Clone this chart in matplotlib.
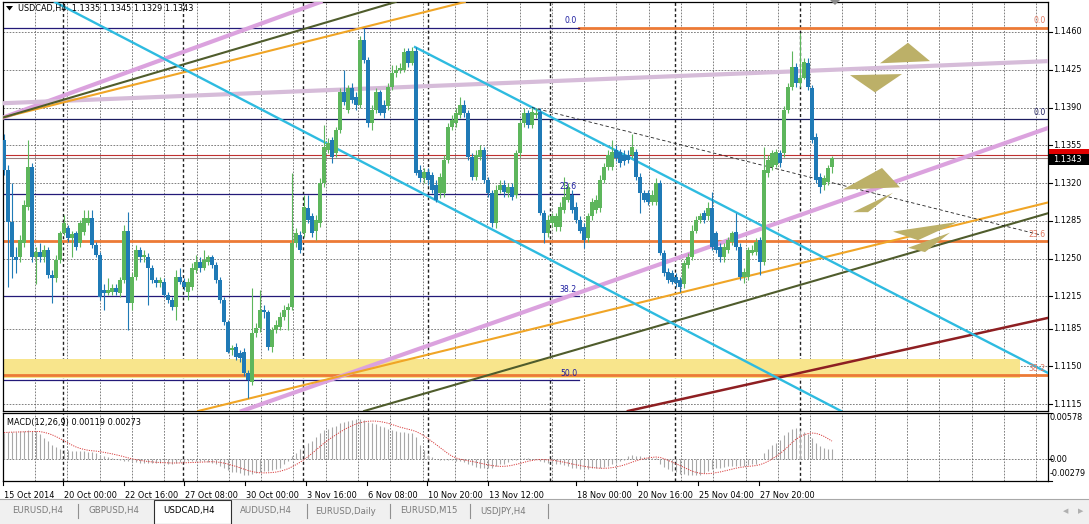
import matplotlib
matplotlib.use('Agg')
import matplotlib.pyplot as plt
import numpy as np
import pandas as pd
from matplotlib.patches import Rectangle, Polygon

# ---------------- data (USDCAD H4 candles) ----------------
opens = [
1.1360,1.1332,1.1284,1.1251,1.1251,1.1264,1.1298,1.1335,1.1251,1.1256,
1.1251,1.1258,1.1235,1.1232,1.1249,1.1274,1.1278,1.1269,1.1274,1.1264,
1.1275,1.1283,1.1288,1.1263,1.1253,1.1221,1.1218,1.1219,1.1223,1.1218,
1.1230,1.1276,1.1209,1.1233,1.1258,1.1251,1.1251,1.1241,1.1230,1.1227,
1.1228,1.1216,1.1212,1.1205,1.1233,1.1228,1.1219,1.1224,1.1239,1.1247,
1.1241,1.1247,1.1251,1.1244,1.1230,1.1212,1.1191,1.1165,1.1168,1.1162,
1.1163,1.1144,1.1136,1.1181,1.1186,1.1202,1.1200,1.1168,1.1184,1.1187,
1.1196,1.1202,1.1205,1.1264,1.1272,1.1274,1.1297,1.1289,1.1276,1.1283,
1.1320,1.1351,1.1360,1.1348,1.1369,1.1404,1.1388,1.1408,1.1400,1.1392,
1.1453,1.1434,1.1376,1.1388,1.1404,1.1392,1.1391,1.1409,1.1422,1.1425,
1.1425,1.1442,1.1431,1.1442,1.1332,1.1325,1.1330,1.1327,1.1318,1.1311,
1.1311,1.1341,1.1372,1.1376,1.1383,1.1392,1.1385,1.1344,1.1326,1.1344,
1.1351,1.1323,1.1311,1.1283,1.1314,1.1318,1.1311,1.1316,1.1309,1.1348,
1.1376,1.1385,1.1374,1.1383,1.1386,1.1292,1.1274,1.1283,1.1279,1.1279,
1.1295,1.1304,1.1309,1.1298,1.1286,1.1279,1.1269,1.1289,1.1295,1.1297,
1.1323,1.1335,1.1335,1.1351,1.1349,1.1346,1.1346,1.1346,1.1349,1.1326,
1.1311,1.1311,1.1302,1.1302,1.1320,1.1255,1.1238,1.1237,1.1233,1.1230,
1.1226,1.1244,1.1251,1.1276,1.1286,1.1292,1.1289,1.1297,1.1274,1.1261,
1.1251,1.1258,1.1265,1.1275,1.1261,1.1233,1.1233,1.1255,1.1256,1.1267,
1.1247,1.1329,1.1335,1.1337,1.1348,1.1348,1.1388,1.1409,1.1428,1.1413,
1.1417,1.1431,1.1408,1.1363,1.1326,1.1318,1.1321,1.1335]
highs = [
1.1365,1.1337,1.1320,1.1261,1.1272,1.1304,1.1360,1.1339,1.1261,1.1264,
1.1263,1.1261,1.1239,1.1253,1.1276,1.1290,1.1281,1.1276,1.1276,1.1286,
1.1295,1.1295,1.1295,1.1265,1.1256,1.1226,1.1232,1.1226,1.1226,1.1233,
1.1281,1.1293,1.1237,1.1263,1.1261,1.1258,1.1255,1.1244,1.1233,1.1233,
1.1232,1.1219,1.1214,1.1239,1.1241,1.1232,1.1232,1.1246,1.1253,1.1251,
1.1258,1.1253,1.1253,1.1247,1.1233,1.1214,1.1193,1.1170,1.1172,1.1165,
1.1167,1.1147,1.1223,1.1190,1.1221,1.1207,1.1202,1.1187,1.1193,1.1200,
1.1207,1.1209,1.1329,1.1278,1.1276,1.1309,1.1309,1.1292,1.1290,1.1325,
1.1374,1.1362,1.1363,1.1372,1.1408,1.1425,1.1411,1.1413,1.1404,1.1456,
1.1464,1.1437,1.1392,1.1408,1.1406,1.1397,1.1413,1.1429,1.1429,1.1431,
1.1445,1.1445,1.1446,1.1446,1.1337,1.1334,1.1334,1.1330,1.1323,1.1329,
1.1346,1.1376,1.1383,1.1390,1.1400,1.1397,1.1388,1.1348,1.1351,1.1355,
1.1353,1.1326,1.1314,1.1318,1.1323,1.1323,1.1320,1.1320,1.1351,1.1378,
1.1390,1.1388,1.1390,1.1390,1.1390,1.1295,1.1290,1.1292,1.1292,1.1302,
1.1326,1.1320,1.1314,1.1302,1.1289,1.1283,1.1292,1.1306,1.1309,1.1327,
1.1339,1.1351,1.1360,1.1355,1.1352,1.1351,1.1351,1.1365,1.1352,1.1329,
1.1314,1.1314,1.1314,1.1325,1.1323,1.1258,1.1241,1.1239,1.1237,1.1233,
1.1249,1.1255,1.1281,1.1289,1.1292,1.1295,1.1302,1.1312,1.1276,1.1264,
1.1264,1.1270,1.1276,1.1292,1.1264,1.1241,1.1261,1.1263,1.1269,1.1270,
1.1353,1.1346,1.1351,1.1352,1.1351,1.1391,1.1413,1.1442,1.1431,1.1459,
1.1436,1.1436,1.1411,1.1366,1.1329,1.1327,1.1337,1.1345]
lows = [
1.1327,1.1224,1.1232,1.1237,1.1247,1.1261,1.1295,1.1247,1.1226,1.1247,
1.1247,1.1232,1.1209,1.1228,1.1246,1.1272,1.1265,1.1251,1.1258,1.1261,
1.1272,1.1281,1.1260,1.1251,1.1212,1.1202,1.1216,1.1216,1.1216,1.1214,
1.1227,1.1184,1.1202,1.1230,1.1247,1.1247,1.1207,1.1227,1.1224,1.1224,
1.1214,1.1209,1.1202,1.1193,1.1226,1.1221,1.1212,1.1221,1.1237,1.1238,
1.1239,1.1244,1.1241,1.1227,1.1209,1.1188,1.1162,1.1161,1.1156,1.1154,
1.1141,1.1121,1.1133,1.1177,1.1182,1.1195,1.1165,1.1163,1.1181,1.1184,
1.1193,1.1184,1.1202,1.1261,1.1255,1.1270,1.1283,1.1270,1.1267,1.1279,
1.1316,1.1348,1.1339,1.1344,1.1366,1.1392,1.1385,1.1394,1.1388,1.1390,
1.1431,1.1372,1.1369,1.1385,1.1383,1.1380,1.1388,1.1406,1.1418,1.1422,
1.1423,1.1428,1.1429,1.1327,1.1321,1.1320,1.1318,1.1311,1.1302,1.1306,
1.1307,1.1339,1.1369,1.1372,1.1380,1.1381,1.1341,1.1323,1.1323,1.1341,
1.1320,1.1307,1.1279,1.1278,1.1311,1.1307,1.1307,1.1304,1.1306,1.1344,
1.1372,1.1371,1.1371,1.1380,1.1290,1.1264,1.1270,1.1279,1.1276,1.1276,
1.1292,1.1302,1.1292,1.1283,1.1274,1.1260,1.1265,1.1286,1.1292,1.1293,
1.1320,1.1332,1.1332,1.1340,1.1335,1.1337,1.1339,1.1343,1.1323,1.1292,
1.1302,1.1300,1.1300,1.1300,1.1253,1.1234,1.1227,1.1226,1.1224,1.1219,
1.1223,1.1241,1.1249,1.1274,1.1283,1.1283,1.1286,1.1258,1.1255,1.1247,
1.1247,1.1255,1.1263,1.1258,1.1230,1.1227,1.1230,1.1253,1.1253,1.1235,
1.1244,1.1326,1.1332,1.1335,1.1335,1.1344,1.1385,1.1406,1.1409,1.1409,
1.1416,1.1406,1.1357,1.1320,1.1311,1.1314,1.1318,1.1329]
closes = [
1.1332,1.1284,1.1251,1.1249,1.1267,1.1300,1.1335,1.1251,1.1256,1.1251,
1.1258,1.1235,1.1232,1.1249,1.1274,1.1283,1.1269,1.1273,1.1261,1.1283,
1.1288,1.1288,1.1263,1.1253,1.1214,1.1218,1.1221,1.1223,1.1219,1.1230,
1.1276,1.1209,1.1233,1.1258,1.1251,1.1253,1.1241,1.1230,1.1227,1.1230,
1.1216,1.1212,1.1205,1.1233,1.1228,1.1224,1.1228,1.1241,1.1247,1.1241,
1.1249,1.1251,1.1244,1.1230,1.1212,1.1191,1.1163,1.1167,1.1159,1.1158,
1.1144,1.1137,1.1181,1.1186,1.1202,1.1200,1.1168,1.1184,1.1188,1.1196,
1.1202,1.1205,1.1264,1.1274,1.1258,1.1298,1.1286,1.1274,1.1286,1.1320,
1.1353,1.1357,1.1344,1.1369,1.1404,1.1395,1.1408,1.1397,1.1392,1.1453,
1.1434,1.1376,1.1388,1.1404,1.1385,1.1385,1.1409,1.1422,1.1425,1.1427,
1.1441,1.1431,1.1442,1.1329,1.1325,1.1330,1.1323,1.1314,1.1304,1.1326,
1.1341,1.1372,1.1378,1.1385,1.1392,1.1385,1.1344,1.1326,1.1346,1.1351,
1.1323,1.1311,1.1283,1.1314,1.1318,1.1312,1.1316,1.1307,1.1348,1.1376,
1.1385,1.1374,1.1386,1.1385,1.1292,1.1274,1.1286,1.1289,1.1289,1.1298,
1.1307,1.1316,1.1295,1.1286,1.1276,1.1267,1.1289,1.1302,1.1304,1.1323,
1.1335,1.1346,1.1349,1.1343,1.1339,1.1340,1.1341,1.1353,1.1326,1.1311,
1.1304,1.1302,1.1309,1.1320,1.1255,1.1237,1.1230,1.1228,1.1227,1.1224,
1.1246,1.1251,1.1276,1.1286,1.1289,1.1286,1.1297,1.1261,1.1258,1.1251,
1.1261,1.1267,1.1274,1.1261,1.1233,1.1238,1.1258,1.1258,1.1265,1.1247,
1.1332,1.1341,1.1348,1.1349,1.1339,1.1388,1.1409,1.1428,1.1413,1.1417,
1.1432,1.1409,1.1360,1.1323,1.1316,1.1325,1.1334,1.1343]

# MACD(12,26,9) main values
macd_main = [
0.0033,0.0034,0.0034,0.0034,0.0035,0.0035,0.0036,0.0035,0.0035,0.0031,
0.0026,0.0022,0.0018,0.0015,0.0012,0.0011,0.0011,0.0010,0.0010,0.0010,
0.0010,0.0009,0.0009,0.0008,0.0005,0.0003,0.0002,0.0001,0.0000,-0.0001,
-0.0003,-0.0003,-0.0004,-0.0004,-0.0005,-0.0005,-0.0005,-0.0005,-0.0005,-0.0005,
-0.0005,-0.0006,-0.0006,-0.0005,-0.0004,-0.0004,-0.0003,-0.0003,-0.0003,-0.0003,
-0.0003,-0.0004,-0.0005,-0.0007,-0.0009,-0.0011,-0.0014,-0.0016,-0.0017,-0.0018,
-0.0020,-0.0020,-0.0019,-0.0018,-0.0016,-0.0015,-0.0015,-0.0014,-0.0013,-0.0011,
-0.0007,-0.0003,0.0004,0.0008,0.0012,0.0016,0.0020,0.0023,0.0027,0.0032,
0.0036,0.0038,0.0040,0.0042,0.0045,0.0047,0.0048,0.0049,0.0050,0.0050,
0.0049,0.0046,0.0045,0.0044,0.0042,0.0040,0.0038,0.0036,0.0035,0.0034,
0.0034,0.0033,0.0033,0.0027,0.0018,0.0011,0.0005,0.0002,0.0000,-0.0001,
-0.0001,-0.0001,-0.0002,-0.0003,-0.0003,-0.0004,-0.0006,-0.0008,-0.0010,-0.0011,
-0.0011,-0.0012,-0.0011,-0.0009,-0.0007,-0.0006,-0.0004,-0.0002,-0.0001,0.0000,
0.0001,0.0001,0.0000,0.0000,-0.0003,-0.0004,-0.0005,-0.0005,-0.0006,-0.0007,
-0.0008,-0.0009,-0.0011,-0.0012,-0.0013,-0.0013,-0.0013,-0.0012,-0.0012,-0.0011,
-0.0010,-0.0009,-0.0007,-0.0005,-0.0003,-0.0001,0.0004,0.0005,0.0004,0.0003,
0.0002,0.0002,0.0001,0.0001,-0.0006,-0.0010,-0.0013,-0.0015,-0.0017,-0.0019,
-0.0019,-0.0020,-0.0020,-0.0020,-0.0020,-0.0018,-0.0015,-0.0013,-0.0012,-0.0011,
-0.0010,-0.0009,-0.0009,-0.0009,-0.0009,-0.0009,-0.0008,-0.0007,-0.0006,0.0000,
0.0008,0.0012,0.0017,0.0020,0.0024,0.0030,0.0034,0.0038,0.0039,0.0037,
0.0034,0.0031,0.0026,0.0020,0.0016,0.0014,0.0012,0.00119]

price_ticks = [1.1460, 1.1425, 1.1390, 1.1355, 1.1320, 1.1285, 1.1250,
               1.1215, 1.1185, 1.1150, 1.1115]
time_labels = ['15 Oct 2014', '20 Oct 00:00', '22 Oct 16:00', '27 Oct 08:00',
               '30 Oct 00:00', '3 Nov 16:00', '6 Nov 08:00', '10 Nov 20:00',
               '13 Nov 12:00', '18 Nov 00:00', '20 Nov 16:00', '25 Nov 04:00',
               '27 Nov 20:00']
time_label_bars = [-0.25, 14.75, 30, 45, 60.25, 75.5, 90.75, 105.75, 121,
                   143, 158.25, 173.5, 188.75]
macd_ticks = [0.00578, 0.0, -0.00279]
macd_tick_labels = ['0.00578', '0.00', '-0.00279']

title_text = 'USDCAD,H4  1.1335 1.1345 1.1329 1.1343'
macd_text = 'MACD(12,26,9) 0.00119 0.00273'
ask_price, bid_price = 1.1346, 1.1343

# Fibonacci levels
fib_navy_levels = [1.1464, 1.1310, 1.1215, 1.1137]
fib_navy_labels = ['0.0', '23.6', '38.2', '50.0']
fib_navy_end = 143.75
fib_orange_levels = [1.1464, 1.1266, 1.1142]
fib_orange_labels = ['0.0', '23.6', '38.2']
fib_top_navy = 1.1379
zone_low, zone_high = 1.1139, 1.1157

# trend lines: ((bar, price), (bar, price))
pink_lines = [((0, 1.1381), (80, 1.1489)), ((156.5, 1.1235), (261, 1.1371))]
lavender_line = ((0, 1.1394), (261, 1.1433))
olive_lines = [((0, 1.1381), (99, 1.1489)), ((188.25, 1.1214), (261, 1.1292))]
orange_lines = [((0, 1.1381), (116.5, 1.1489)), ((150, 1.1201), (261, 1.1302))]
cyan_line_inf = ((51.5, 1.1413), (150, 1.1223))
cyan_ray = ((102.75, 1.1446), (261, 1.1144))
dashed_seg = ((132, 1.1390), (259, 1.1272))
maroon_line = ((160, 1.1112), (261, 1.1195))

tri_shapes = [
    [(219, 1.1431), (226, 1.1450), (231.5, 1.1433)],
    [(211.5, 1.1420), (224.5, 1.1421), (217.75, 1.1404)],
    [(209.75, 1.1314), (219.5, 1.1334), (224, 1.1316)],
    [(212.25, 1.1293), (222.25, 1.1311), (216, 1.1293)],
    [(222.25, 1.1275), (238.5, 1.1284), (228.5, 1.1267)],
    [(226, 1.1260), (236.5, 1.1274), (230.25, 1.1256)],
]

tabs = ['EURUSD,H4', 'GBPUSD,H4', 'USDCAD,H4', 'AUDUSD,H4', 'EURUSD,Daily',
        'EURUSD,M15', 'USDJPY,H4']
tab_active = 'USDCAD,H4'

# ---------------- figure ----------------
W, H = 1089, 524
fig = plt.figure(figsize=(W / 100, H / 100), dpi=100)
fig.patch.set_facecolor('white')

def fx(x):
    return x / W

def fy(y):
    return 1 - y / H

FONT = 'DejaVu Sans'
FS = 5.9

ax = fig.add_axes([fx(3), fy(411), (1048 - 3) / W, (411 - 2) / H])
axm = fig.add_axes([fx(3), fy(481), (1048 - 3) / W, (481 - 413) / H])
XMIN, XMAX = -0.25, 261.0
ax.set_xlim(XMIN, XMAX)
ax.set_ylim(1.11087, 1.14878)
axm.set_xlim(XMIN, XMAX)
axm.set_ylim(-0.00279, 0.00578)
for a in (ax, axm):
    a.set_xticks([])
    a.set_yticks([])
    a.set_facecolor('white')
    for s in a.spines.values():
        s.set_color('black')
        s.set_linewidth(0.9)

GRID = dict(color='#5e5e5e', lw=0.55, dashes=(2.2, 1.8), zorder=1)
for p in price_ticks:
    ax.axhline(p, **GRID)
axm.axhline(0.0, **GRID)
thin_grid = np.arange(7.75, XMAX, 8.075)
thick_grid = [14.75, 44.75, 74.75, 106, 136.5, 167.75, 199]
for b in thin_grid:
    ax.axvline(b, **GRID)
    axm.axvline(b, **GRID)
for b in thick_grid:
    ax.axvline(b, color='#202020', lw=1.0, dashes=(2.2, 1.8), zorder=1)
    axm.axvline(b, color='#202020', lw=1.0, dashes=(2.2, 1.8), zorder=1)

# zone and horizontal levels
ax.add_patch(Rectangle((XMIN, zone_low), 254 - XMIN, zone_high - zone_low,
                       facecolor='#f8e58c', edgecolor='none', zorder=1.5))
ORANGE_H = '#ec7a36'
ax.plot([fib_navy_end, XMAX], [fib_orange_levels[0]] * 2, color=ORANGE_H, lw=2.0, zorder=2)
for lv in fib_orange_levels[1:]:
    ax.axhline(lv, color=ORANGE_H, lw=2.0, zorder=2)
for lv in fib_navy_levels:
    ax.plot([XMIN, fib_navy_end], [lv, lv], color='#231a78', lw=0.9, zorder=2.5)
ax.axhline(fib_top_navy, color='#1c1c60', lw=0.9, zorder=2.5)
ax.axhline(ask_price, color='#c03030', lw=0.8, zorder=2.5)
ax.axhline(bid_price, color='#9a8080', lw=0.8, zorder=2.5)

for lv, t in zip(fib_navy_levels, fib_navy_labels):
    ax.text(fib_navy_end - 0.5, lv + 0.00022, t, color='#1c1ca0', fontsize=5.6,
            family=FONT, ha='right', va='bottom', zorder=7)
for lv, t in zip(fib_orange_levels, fib_orange_labels):
    ax.text(XMAX - 0.6, lv + 0.00022, t, color='#e07a62', fontsize=5.6,
            family=FONT, ha='right', va='bottom', zorder=7)
ax.text(XMAX - 0.6, fib_top_navy + 0.00022, '0.0', color='#202060', fontsize=5.6,
        family=FONT, ha='right', va='bottom', zorder=7)

# trend lines
for p1, p2 in pink_lines:
    ax.axline(p1, p2, color='#dba2de', lw=3.0, zorder=3)
ax.axline(*lavender_line, color='#d6bcd9', lw=3.0, zorder=3)
for p1, p2 in olive_lines:
    ax.axline(p1, p2, color='#4f5c2c', lw=1.5, zorder=3.2)
for p1, p2 in orange_lines:
    ax.axline(p1, p2, color='#f0a526', lw=1.5, zorder=3.1)
ax.axline(*cyan_line_inf, color='#2ebbe0', lw=1.7, zorder=3.3)
ax.plot([cyan_ray[0][0], cyan_ray[1][0]], [cyan_ray[0][1], cyan_ray[1][1]],
        color='#2ebbe0', lw=1.7, zorder=3.3)
ax.plot([dashed_seg[0][0], dashed_seg[1][0]], [dashed_seg[0][1], dashed_seg[1][1]],
        color='#202020', lw=0.6, dashes=(4, 3), zorder=3.3)
ax.axline(*maroon_line, color='#8e1f22', lw=1.8, zorder=3.2)
for tri in tri_shapes:
    ax.add_patch(Polygon(tri, closed=True, facecolor='#bcb068', edgecolor='none',
                         zorder=4))

# candles
o = np.array(opens); h = np.array(highs); l = np.array(lows); c = np.array(closes)
idx = np.arange(len(c))
up = c >= o
cols = np.where(up, '#5db65c', '#1f7ab6')
ax.vlines(idx, l, h, colors=cols, lw=0.8, zorder=5)
body_bot = np.minimum(o, c)
body_h = np.maximum(np.abs(c - o), 0.00005)
ax.bar(idx, body_h, bottom=body_bot, width=0.78, color=cols, lw=0, zorder=6)

# MACD
mm = np.array(macd_main)
sig = pd.Series(mm).rolling(9, min_periods=1).mean().values
axm.vlines(idx, 0, mm, colors='#a8a8a8', lw=0.8, zorder=3)
axm.plot(idx, sig, color='#d83c3c', lw=0.7, dashes=(1.2, 1.2), zorder=4)

# ---------------- texts ----------------
fig.add_artist(Polygon([[fx(6), fy(6)], [fx(13), fy(6)], [fx(9.5), fy(10.5)]],
                       closed=True, transform=fig.transFigure, facecolor='black',
                       edgecolor='none'))
fig.text(fx(18), fy(8), title_text, fontsize=FS, family=FONT, va='center', ha='left')
fig.text(fx(7), fy(423), macd_text, fontsize=FS, family=FONT, va='center', ha='left')

# price axis labels
trans_y = ax.get_yaxis_transform()
for p in price_ticks:
    ax.plot([1.0, 1.004], [p, p], transform=trans_y, color='black', lw=0.8,
            clip_on=False)
    ax.text(1.0048, p, f'{p:.4f}', transform=trans_y, fontsize=FS, family=FONT,
            va='center', ha='left', clip_on=False)
# current price boxes (ask box mostly hidden behind the bid box)
fig.add_artist(Rectangle((fx(1049), fy(158)), 40 / W, 9 / H, transform=fig.transFigure,
                         facecolor='#e00000', edgecolor='none'))
fig.add_artist(Rectangle((fx(1049), fy(164.5)), 40 / W, 10.5 / H,
                         transform=fig.transFigure, facecolor='black',
                         edgecolor='none'))
fig.text(fx(1053), fy(159.5), f'{bid_price:.4f}', fontsize=FS, family=FONT,
         color='white', va='center', ha='left')

tm = axm.get_yaxis_transform()
for v, t in zip(macd_ticks, macd_tick_labels):
    axm.plot([1.0, 1.004], [v, v], transform=tm, color='black', lw=0.8, clip_on=False)
macd_label_y = [418, 459, 473]
for yy, t in zip(macd_label_y, macd_tick_labels):
    fig.text(fx(1050), fy(yy), t, fontsize=FS, family=FONT, va='center', ha='left')

# time axis labels
tx = axm.get_xaxis_transform()
for b, t in zip(time_label_bars, time_labels):
    axm.plot([b, b], [0, -0.06], transform=tx, color='black', lw=0.8, clip_on=False)
    axm.text(b + 0.3, -0.14, t, transform=tx, fontsize=FS, family=FONT,
             va='top', ha='left', clip_on=False)

# chart shift marker
fig.add_artist(Polygon([[fx(830), fy(0)], [fx(840), fy(0)], [fx(835), fy(5)]],
                       closed=True, transform=fig.transFigure, facecolor='#8a8a8a',
                       edgecolor='none'))

# tab bar
fig.add_artist(Rectangle((0, 0), 1, 25 / H, transform=fig.transFigure,
                         facecolor='#f0f0f0', edgecolor='none', zorder=0))
fig.add_artist(plt.Line2D([0, 1], [fy(499), fy(499)], transform=fig.transFigure,
                          color='#a8a8a8', lw=0.8))
tab_x = [12, 88, 163, 240, 315, 400, 480]
tab_sep = [78, 153, 232, 307, 390, 470, 548]
fig.add_artist(Rectangle((fx(154), fy(524)), 77 / W, 24 / H, transform=fig.transFigure,
                         facecolor='white', edgecolor='#303030', lw=0.8))
for x, t in zip(tab_x, tabs):
    fig.text(fx(x), fy(511), t, fontsize=6.2, family=FONT, va='center', ha='left',
             color='black' if t == tab_active else '#7a7a7a')
for x in tab_sep:
    if x in (153, 232):
        continue
    fig.add_artist(plt.Line2D([fx(x), fx(x)], [fy(504), fy(518)],
                              transform=fig.transFigure, color='#909090', lw=0.8))
fig.text(fx(1063), fy(511), '◀', fontsize=5, family=FONT, color='#b0b0b0',
         va='center', ha='left')
fig.text(fx(1078), fy(511), '▶', fontsize=5, family=FONT, color='#b0b0b0',
         va='center', ha='left')

fig.savefig('out.png', dpi=100, facecolor=fig.get_facecolor())
